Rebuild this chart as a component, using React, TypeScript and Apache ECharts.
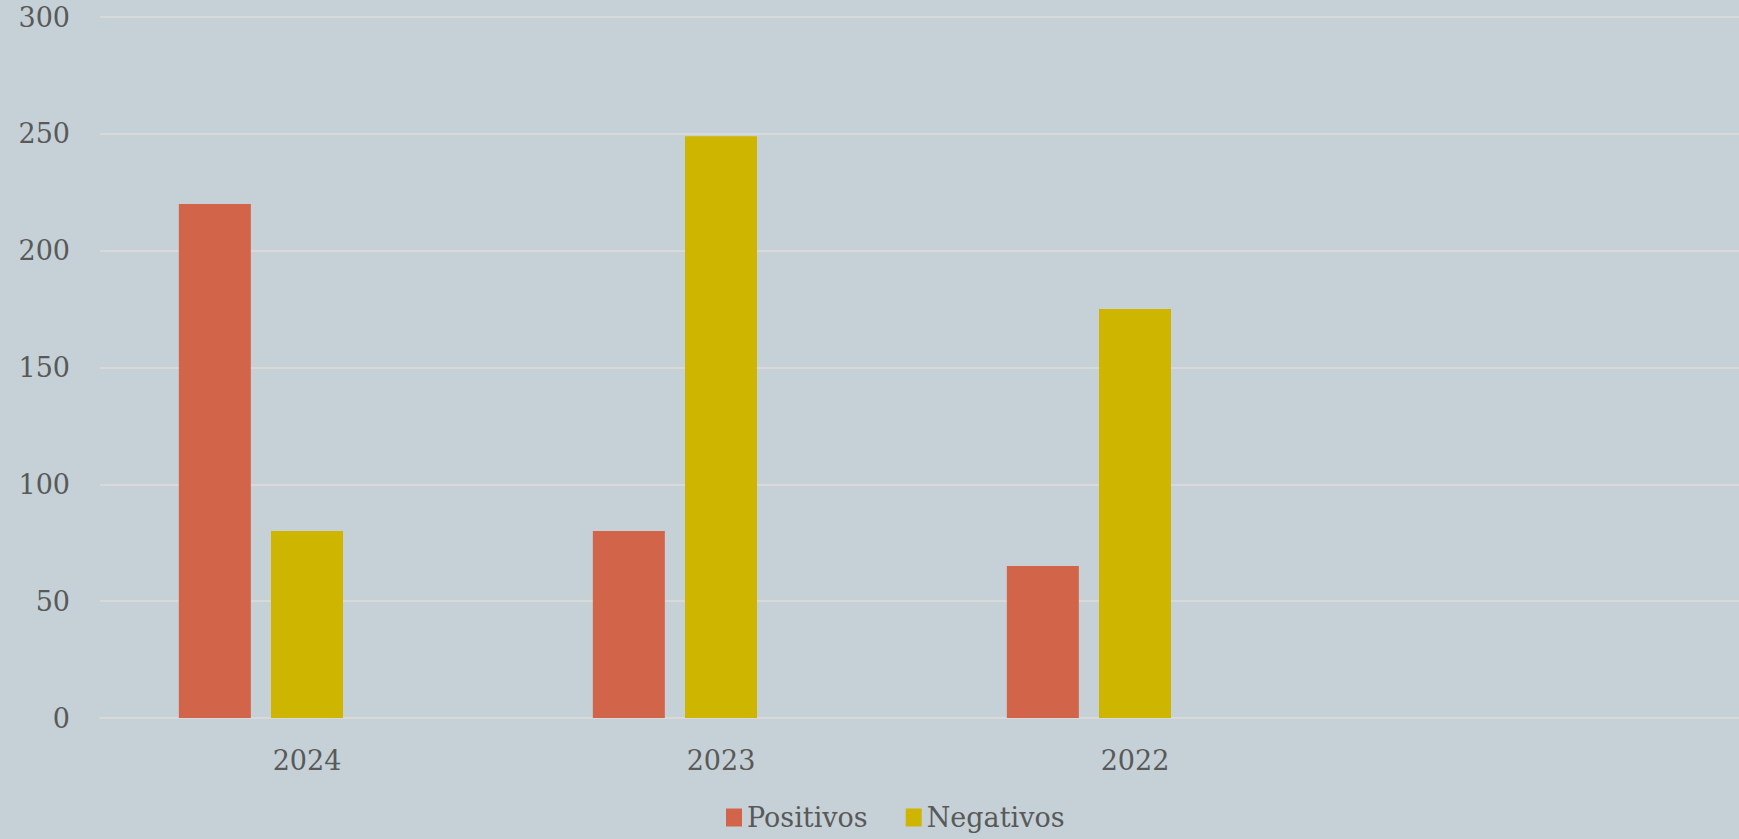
import React, { useEffect, useRef } from "react";
import * as echarts from "echarts";

const categories = ["2024", "2023", "2022", ""];
const positivos = [220, 80, 65, null];
const negativos = [80, 249, 175, null];
const blank = [null, null, null, null];
const yTicks = { min: 0, max: 300, interval: 50 };

const FONT = "DejaVu Serif";
const TEXT = "#595959";

export default function App() {
  const ref = useRef<HTMLDivElement>(null);
  useEffect(() => {
    document.body.style.margin = "0";
    document.body.style.overflow = "hidden";
    const chart = echarts.init(ref.current!, null, { renderer: "svg" });
    chart.setOption({
      animation: false,
      backgroundColor: "#C5D1D7",
      grid: { left: 100, right: 0, top: 17, bottom: 121, containLabel: false },
      legend: {
        data: ["Positivos", "Negativos"],
        left: 721,
        top: 799,
        itemWidth: 16,
        itemHeight: 18,
        itemGap: 38,
        icon: "rect",
        textStyle: { fontFamily: FONT, fontSize: 27, color: TEXT },
      },
      xAxis: {
        type: "category",
        data: categories,
        axisLine: { lineStyle: { color: "#D9D9D9", width: 2 } },
        axisTick: { show: false },
        axisLabel: { fontFamily: FONT, fontSize: 27, color: TEXT, margin: 29 },
      },
      yAxis: {
        type: "value",
        min: yTicks.min,
        max: yTicks.max,
        interval: yTicks.interval,
        axisLine: { show: false },
        axisTick: { show: false },
        splitLine: { lineStyle: { color: "#D9D9D9", width: 2 } },
        axisLabel: { fontFamily: FONT, fontSize: 27, color: TEXT, margin: 30 },
      },
      series: [
        {
          name: "Positivos",
          type: "bar",
          data: positivos,
          barWidth: 72,
          barGap: "28%",
          itemStyle: { color: "#D2644A" },
        },
        {
          name: "Negativos",
          type: "bar",
          data: negativos,
          barWidth: 72,
          barGap: "28%",
          itemStyle: { color: "#CDB500" },
        },
        {
          name: "_blank",
          type: "bar",
          data: blank,
          barWidth: 72,
          barGap: "28%",
          itemStyle: { color: "transparent" },
        },
      ],
    });
    return () => chart.dispose();
  }, []);
  return (
    <div
      ref={ref}
      style={{ position: "fixed", left: 0, top: 0, width: 1756, height: 839 }}
    />
  );
}
